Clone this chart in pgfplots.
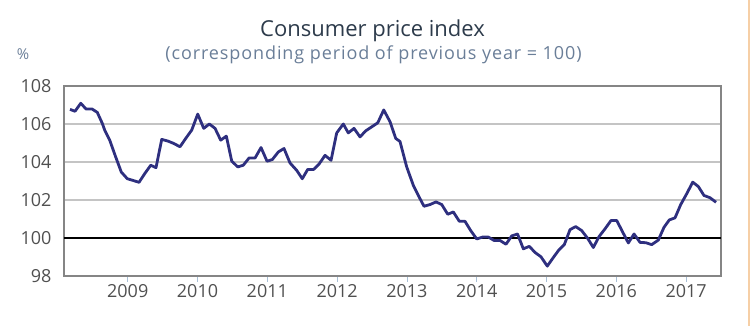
\documentclass[border=0pt]{standalone}
\usepackage{fontspec}
\setmainfont{Open Sans}
\usepackage{pgfplots}
\pgfplotsset{compat=1.18}
\definecolor{cpiline}{HTML}{2E2F7F}
\definecolor{gridgray}{HTML}{C4C4C4}
\definecolor{framegray}{HTML}{858585}
\definecolor{labelgray}{HTML}{505050}
\definecolor{titlecol}{HTML}{2D3B4B}
\definecolor{subcol}{HTML}{6A7E98}
\definecolor{tickblue}{HTML}{A9C0D6}
\definecolor{edgeorange}{HTML}{F6CFA6}
\begin{document}
\begin{tikzpicture}
\path[use as bounding box] (-64pt,-50pt) rectangle (686pt,276pt);
\begin{axis}[
  scale only axis, width=657pt, height=190pt,
  xmin=2008.087, xmax=2017.5, ymin=98, ymax=108,
  ytick={98,100,102,104,106,108},
  xtick={2009,2010,2011,2012,2013,2014,2015,2016,2017},
  xticklabels={2009,2010,2011,2012,2013,2014,2015,2016,2017},
  ymajorgrids, grid style={color=gridgray, line width=1.1pt},
  axis line style={draw=framegray, line width=1.4pt},
  tick align=outside, xtick pos=bottom, ytick pos=left,
  major tick length=6pt,
  major x tick style={draw=tickblue, line width=0.8pt},
  major y tick style={draw=none},
  tick label style={font=\fontsize{18}{18}\selectfont, text=labelgray},
  xticklabel style={yshift=1pt},
  yticklabel style={xshift=-3pt},
  /pgf/number format/assume math mode=true,
  clip=false,
]
\addplot[black, line width=1.4pt] coordinates {(2008.087,100) (2017.5,100)};
\addplot[cpiline, line width=2.8pt, line join=round] coordinates {
(2008.173,106.77) (2008.245,106.67) (2008.327,107.09) (2008.403,106.79) (2008.489,106.79)
(2008.564,106.61) (2008.636,106.03) (2008.670,105.68) (2008.742,105.15) (2008.828,104.26)
(2008.908,103.47) (2008.994,103.12) (2009.076,103.03) (2009.162,102.93) (2009.244,103.39)
(2009.330,103.83) (2009.405,103.70) (2009.487,105.19) (2009.577,105.10) (2009.663,104.97)
(2009.749,104.80) (2009.831,105.24) (2009.917,105.68) (2010.003,106.52) (2010.089,105.77)
(2010.169,106.00) (2010.251,105.77) (2010.332,105.15) (2010.413,105.36) (2010.490,104.05)
(2010.576,103.74) (2010.656,103.83) (2010.738,104.21) (2010.824,104.21) (2010.910,104.76)
(2010.996,104.04) (2011.072,104.13) (2011.158,104.53) (2011.239,104.71) (2011.325,103.95)
(2011.421,103.56) (2011.501,103.12) (2011.579,103.61) (2011.665,103.61) (2011.745,103.91)
(2011.827,104.35) (2011.913,104.09) (2011.994,105.53) (2012.089,106.00) (2012.160,105.53)
(2012.242,105.77) (2012.328,105.32) (2012.410,105.64) (2012.496,105.85) (2012.582,106.06)
(2012.668,106.74) (2012.758,106.12) (2012.840,105.24) (2012.901,105.08) (2012.997,103.74)
(2013.092,102.77) (2013.163,102.24) (2013.245,101.67) (2013.331,101.76) (2013.417,101.90)
(2013.499,101.76) (2013.585,101.25) (2013.665,101.37) (2013.751,100.88) (2013.832,100.88)
(2013.914,100.39) (2014.000,99.95) (2014.086,100.05) (2014.166,100.05) (2014.248,99.87)
(2014.334,99.87) (2014.420,99.67) (2014.501,100.11) (2014.585,100.21) (2014.668,99.43)
(2014.754,99.56) (2014.835,99.24) (2014.921,99.01) (2015.011,98.52) (2015.097,98.97)
(2015.179,99.38) (2015.255,99.65) (2015.337,100.44) (2015.418,100.60) (2015.504,100.39)
(2015.590,99.98) (2015.671,99.50) (2015.752,100.07) (2015.838,100.48) (2015.924,100.92)
(2016.006,100.92) (2016.086,100.35) (2016.172,99.74) (2016.254,100.21) (2016.340,99.77)
(2016.426,99.75) (2016.507,99.65) (2016.602,99.89) (2016.683,100.56) (2016.759,100.95)
(2016.841,101.06) (2016.923,101.76) (2017.009,102.33) (2017.095,102.94) (2017.175,102.71)
(2017.256,102.24) (2017.342,102.12) (2017.429,101.88)
};
\end{axis}
\node[anchor=base, font=\fontsize{22}{22}\selectfont, text=titlecol] at (308.5pt,239pt) {Consumer price index};
\node[anchor=base, font=\fontsize{18}{18}\selectfont\addfontfeature{LetterSpace=5}, text=subcol] at (309.5pt,216pt) {(corresponding period of previous year = 100)};
\node[anchor=base, font=\fontsize{15}{15}\selectfont, text=subcol] at (-41pt,216pt) {\%};
\draw[edgeorange, line width=1.2pt] (685pt,-50pt) -- (685pt,276pt);
\end{tikzpicture}
\end{document}
